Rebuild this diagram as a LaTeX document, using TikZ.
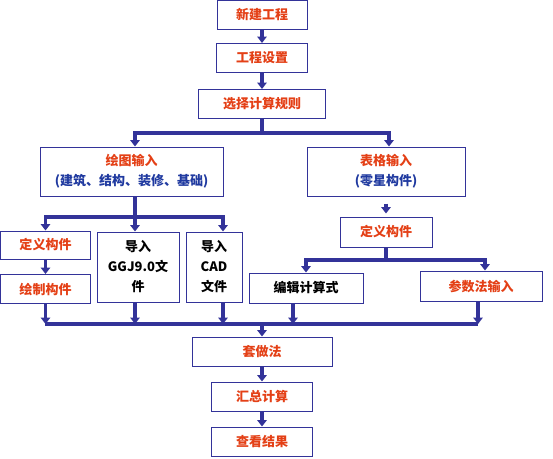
\documentclass[tikz,border=0pt]{standalone}
\usepackage{fontspec}
\setmainfont{Noto Sans CJK SC}
\usepackage{xcolor}
\usetikzlibrary{arrows.meta, positioning}

\definecolor{flowblue}{RGB}{51,51,153}
\definecolor{stepred}{RGB}{228,64,22}
\definecolor{noteblue}{RGB}{32,58,160}

\begin{document}
\begin{tikzpicture}[
        x=1pt, y=-1pt,
        box/.style={rectangle, draw=flowblue, line width=1pt, text=stepred, align=center, inner sep=0pt, font=\bfseries\fontsize{13}{20}\selectfont},
        plainbox/.style={box, text=black},
        arrow/.style={draw=flowblue, line width=3.2pt, -{Triangle[length=6.5pt,width=9.5pt]}},
        line/.style={draw=flowblue, line width=3.2pt}
    ]
    \useasboundingbox[fill=white] (0,0) rectangle (553,458);

    % main column, top
    \node [box, minimum width=90, minimum height=29] (new) at (262,15) {新建工程};
    \node [box, minimum width=91, minimum height=29, below=13pt of new] (setup) {工程设置};
    \node [box, minimum width=127, minimum height=29, below=16pt of setup] (rule) {选择计算规则};

    % two input ways
    \node [box, minimum width=183, minimum height=49] (drawin) at (131.5,171.5) {绘图输入\\\textcolor{noteblue}{(建筑、结构、装修、基础)}};
    \node [box, minimum width=158, minimum height=49] (tablein) at (386,171.5) {表格输入\\\textcolor{noteblue}{(零星构件)}};

    % left branch
    \node [box, minimum width=90, minimum height=28] (defL) at (45.5,245) {定义构件};
    \node [box, minimum width=90, minimum height=29] (drawL) at (45.5,289) {绘制构件};
    \node [plainbox, minimum width=82, minimum height=70] (ggj) at (138,267) {导入\\GGJ9.0文\\件};
    \node [plainbox, minimum width=56, minimum height=70] (cad) at (214,267) {导入\\CAD\\文件};

    % right branch
    \node [box, minimum width=92, minimum height=30] (defR) at (386,232) {定义构件};
    \node [plainbox, minimum width=114, minimum height=30] (edit) at (306,288) {编辑计算式};
    \node [box, minimum width=122, minimum height=30] (param) at (481,286) {参数法输入};

    % main column, bottom
    \node [box, minimum width=140, minimum height=29] (tao) at (262,351.5) {套做法};
    \node [box, minimum width=101, minimum height=29, below=15pt of tao] (sum) {汇总计算};
    \node [box, minimum width=101, minimum height=29, below=15pt of sum] (view) {查看结果};

    \coordinate (fork1) at (262,133);
    \coordinate (fork2) at (135,217);
    \coordinate (fork3) at (386,260);
    \coordinate (mergeL) at (45,324);
    \coordinate (mergeR) at (478,324);
    \coordinate (mergeC) at (262,324);

    \draw [arrow] (new) -- (setup);
    \draw [arrow] (setup) -- (rule);
    \draw [line] (rule) -- (fork1);
    \draw [arrow] (fork1) -| ([xshift=3.5pt]drawin.north);
    \draw [arrow] (fork1) -| ([xshift=3pt]tablein.north);

    \draw [line] (drawin.south -| fork2) -- (fork2);
    \draw [arrow] (fork2) -| (defL.north);
    \draw [arrow] (fork2) -- (fork2 |- ggj.north);
    \draw [arrow] (fork2) -| ([xshift=9pt]cad.north);
    \draw [arrow] (defL) -- (drawL);

    \draw [arrow, shorten <=7pt, shorten >=3pt] (tablein) -- (defR);
    \draw [line] (defR) -- (fork3);
    \draw [arrow] (fork3) -| (edit.north);
    \draw [arrow] (fork3) -| ([xshift=4pt]param.north);

    \draw [line] (mergeL) -- (mergeR);
    \draw [arrow] (drawL) -- (drawL.south |- mergeL);
    \draw [arrow] (fork2 |- ggj.south) -- (fork2 |- mergeL);
    \draw [arrow] ([xshift=9pt]cad.south) -- ([xshift=9pt]cad.south |- mergeL);
    \draw [arrow] ([xshift=-13pt]edit.south) -- ([xshift=-13pt]edit.south |- mergeL);
    \draw [arrow] ([xshift=-3pt]param.south) -- ([xshift=-3pt]param.south |- mergeR);

    \draw [arrow] (mergeC) -- (tao);
    \draw [arrow] (tao) -- (sum);
    \draw [arrow] (sum) -- (view);
\end{tikzpicture}
\end{document}
